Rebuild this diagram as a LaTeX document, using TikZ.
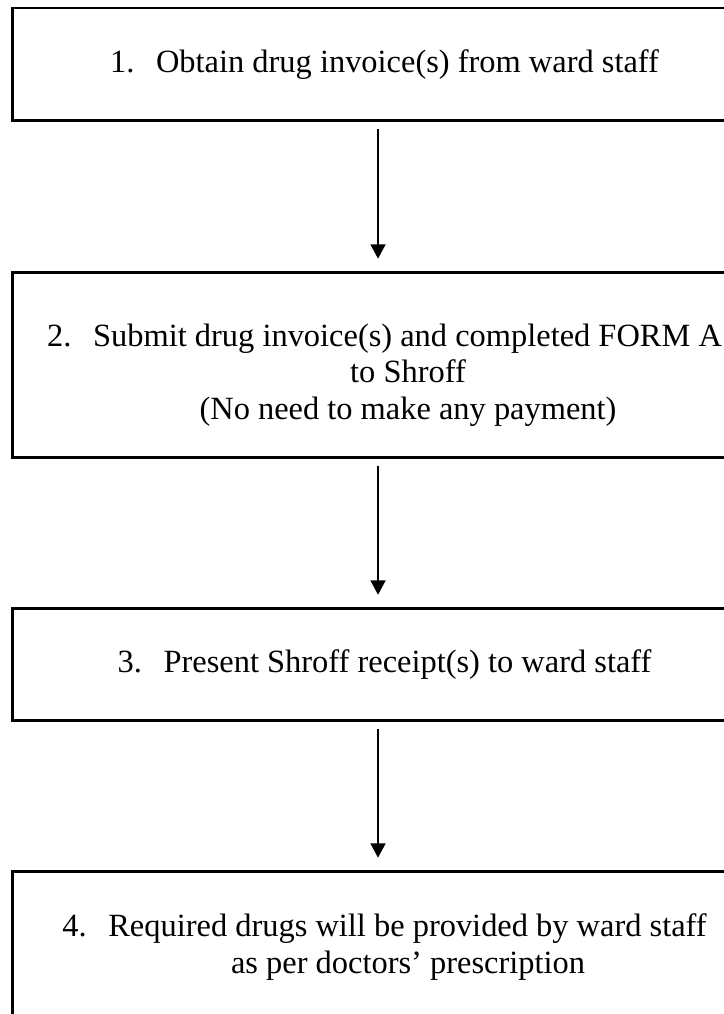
\documentclass[tikz,border=0pt]{standalone}
\usepackage{fontspec}
\setmainfont{Liberation Serif}
\usetikzlibrary{positioning, arrows.meta}
\tikzstyle{stepbox} = [rectangle, minimum width=275.3pt, align=center, draw=black, line width=1.1pt, font=\fontsize{12pt}{13.5pt}\selectfont]
\tikzstyle{arrow} = [line width=0.7pt, -{Triangle[width=5.5pt,length=5.3pt]}, shorten <=2.6pt, shorten >=4.4pt]

\begin{document}
\begin{tikzpicture}[node distance=54.8pt]

\useasboundingbox (0,0) rectangle (267.88pt,-375.18pt);
\clip (0,0) rectangle (267.88pt,-375.18pt);

\node (obtain) [stepbox, minimum height=41.8pt, anchor=north] at (142.27pt,-2.41pt) {\makebox[1.42em][l]{1.}Obtain drug invoice(s) from ward staff};
\node (submit) [stepbox, minimum height=68.45pt, below=of obtain] {\rule{0pt}{16pt}\makebox[1.42em][l]{2.}Submit drug invoice(s) and completed FORM A\\ \hspace*{1.45em}to Shroff\\ \hspace*{1.45em}(No need to make any payment)};
\node (present) [stepbox, minimum height=41.4pt, below=of submit] {\makebox[1.42em][l]{3.}Present Shroff receipt(s) to ward staff};
\node (provide) [stepbox, minimum height=56.2pt, below=of present] {\makebox[1.42em][l]{4.}Required drugs will be provided by ward staff\\ \hspace*{1.45em}as per doctors’ prescription};

\draw [arrow] ([xshift=-2.4pt]obtain.south) -- ([xshift=-2.4pt]submit.north);
\draw [arrow] ([xshift=-2.4pt]submit.south) -- ([xshift=-2.4pt]present.north);
\draw [arrow] ([xshift=-2.4pt]present.south) -- ([xshift=-2.4pt]provide.north);

\end{tikzpicture}
\end{document}
